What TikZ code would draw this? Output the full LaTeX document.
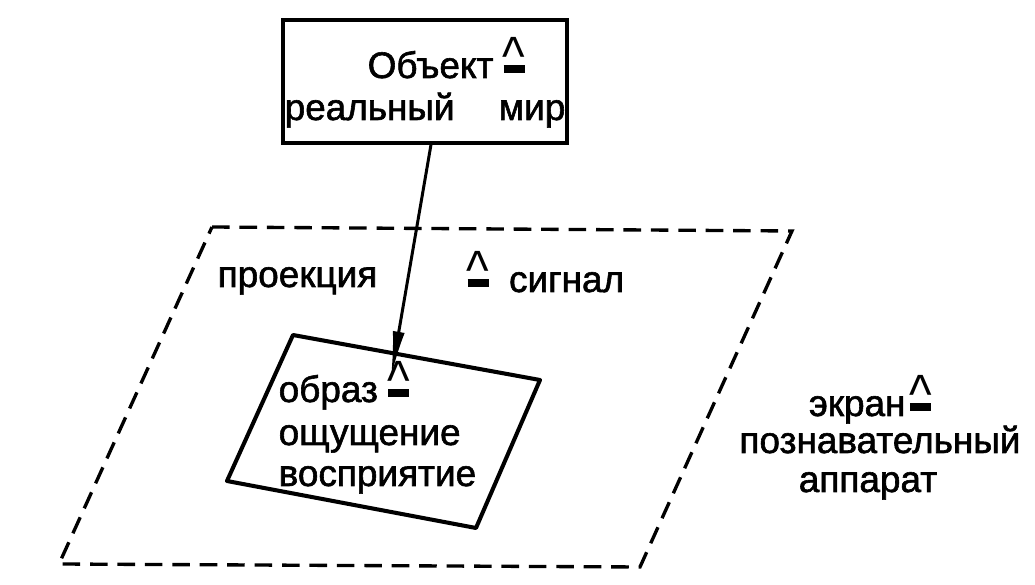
\documentclass[tikz,border=0pt]{standalone}
\usepackage{fontspec}
\setmainfont{Liberation Sans}[FakeBold=1.6]
\newfontfamily\fin{Liberation Sans}
\usetikzlibrary{arrows.meta}
% symbole "correspond à"
\newcommand{\entspr}{\ooalign{\rule[0.14em]{0.57em}{0.2em}\cr\hidewidth\raisebox{0.06em}{\scalebox{1.3}[1.5]{\fin\textasciicircum}}\hidewidth\cr}}
\begin{document}
\begin{tikzpicture}[x=0.01cm,y=-0.01cm]
\tikzset{
	texte/.style={inner sep=0pt, font=\fontsize{10.5}{12}\selectfont},
	cadre/.style={draw, line width=0.9pt, minimum width=2.84cm, minimum height=1.23cm},
	ecran/.style={line width=0.95pt, dash pattern=on 5pt off 2.8pt},
	image/.style={line width=1.15pt, line join=round},
	fleche/.style={line width=0.85pt, -{Latex[length=13pt,width=3.4pt]}}
}
\useasboundingbox (0,0) rectangle (1035,585);

 % objet : le monde réel
  \node[cadre] (objet) at (425,81.5) {};
  \node[texte, anchor=base west] (objet-l1) at (367,78) {Объект \entspr};
  \node[texte, anchor=base west] (objet-l2) at (284,120) {реальный};
  \node[texte, anchor=base east] (objet-l3) at (566,120) {мир};

 % écran (pointillés) et image
  \draw[ecran] (212,227) -- (792,231) -- (640,567) -- (59,564) -- cycle;
  \draw[image] (293,335) -- (540,380) -- (476,528) -- (227,481) -- cycle;
  \coordinate (cible) at (391,377);
  \draw[fleche] ([xshift=0.06cm]objet.south) -- (cible);

% du texte
  \node[texte, anchor=base west] (projection) at (217,287) {проекция};
  \node[texte, anchor=base west] (signal) at (467,292) {\entspr\hspace{0.55em}сигнал};
  \node[texte, anchor=base west] (image-l1) at (278,402) {образ \entspr};
  \node[texte, anchor=base west] (image-l2) at (278,445) {ощущение};
  \node[texte, anchor=base west] (image-l3) at (278,486) {восприятие};
  \node[texte, anchor=base] (ecran-l1) at (870,416) {экран\hspace{0.12em}\entspr};
  \node[texte, anchor=base] (ecran-l2) at (880,453) {познавательный};
  \node[texte, anchor=base] (ecran-l3) at (868,492) {аппарат};
\end{tikzpicture}
\end{document}
